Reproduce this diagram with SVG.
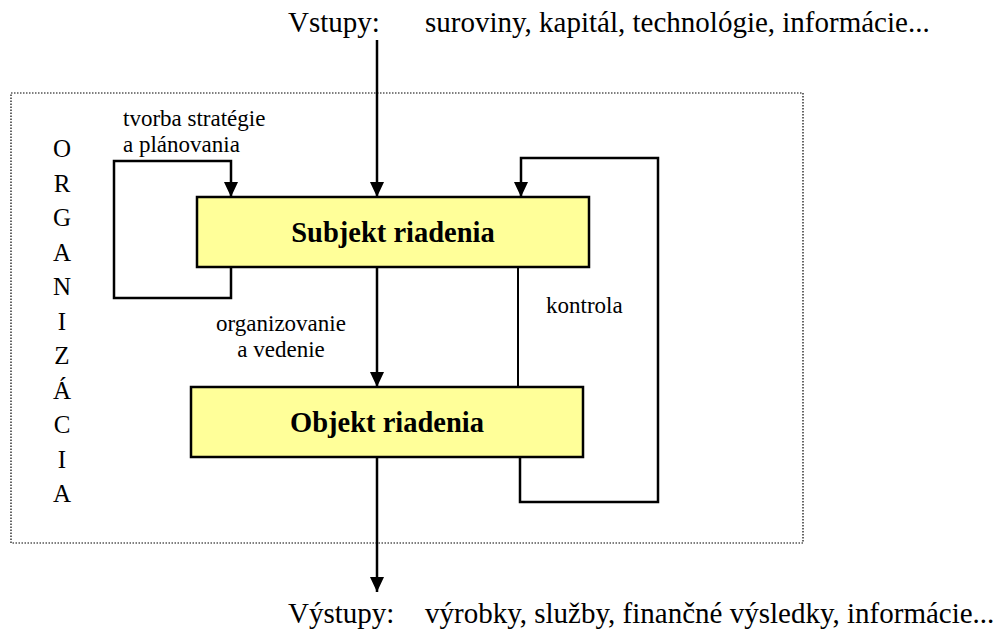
<svg xmlns="http://www.w3.org/2000/svg" width="1006" height="632" viewBox="0 0 1006 632">
<style>
text{font-family:"Liberation Serif","Times New Roman",serif;fill:#000}
.big{font-size:29px}
.lbl{font-size:23px}
.org{font-size:25px;text-anchor:middle}
.box{fill:#ffff99;stroke:#000;stroke-width:2.5}
.bt{font-size:28.5px;font-weight:bold;text-anchor:middle}
.ln{fill:none;stroke:#000;stroke-width:2}
.ar{fill:none;stroke:#000;stroke-width:2.5;marker-end:url(#ah)}
</style>
<defs>
<marker id="ah" markerUnits="userSpaceOnUse" markerWidth="16" markerHeight="16" viewBox="0 0 16 16" refX="15" refY="8" orient="auto">
<path d="M0,1 L15,8 L0,15 Z" fill="#000"/>
</marker>
</defs>
<rect width="1006" height="632" fill="#fff"/>
<g id="frame">
<rect x="11" y="93" width="792" height="450" fill="none" stroke="#000" stroke-width="1.2" stroke-dasharray="1.5,1.5"/>
</g>
<g id="organizacia">
<text class="org" x="62" y="157">O</text>
<text class="org" x="62" y="191.5">R</text>
<text class="org" x="62" y="226">G</text>
<text class="org" x="62" y="260.5">A</text>
<text class="org" x="62" y="295">N</text>
<text class="org" x="62" y="329.5">I</text>
<text class="org" x="62" y="364">Z</text>
<text class="org" x="62" y="398.5">Á</text>
<text class="org" x="62" y="433">C</text>
<text class="org" x="62" y="467.5">I</text>
<text class="org" x="62" y="502">A</text>
</g>
<g id="connectors">
<line class="ar" x1="377" y1="40" x2="377" y2="197"/>
<line class="ar" x1="377" y1="267" x2="377" y2="387"/>
<line class="ar" x1="377" y1="457" x2="377" y2="592"/>
<polyline class="ar" points="231,267 231,298 114,298 114,161 231,161 231,197"/>
<polyline class="ar" points="520,457 520,502 658,502 658,158 521,158 521,197"/>
<line class="ln" x1="518" y1="267" x2="518" y2="387"/>
</g>
<g id="subjekt">
<rect class="box" x="197" y="197" width="392" height="70"/>
<text class="bt" x="393" y="242">Subjekt riadenia</text>
</g>
<g id="objekt">
<rect class="box" x="191" y="387" width="392" height="70"/>
<text class="bt" x="387" y="432">Objekt riadenia</text>
</g>
<g id="labels">
<text class="big" x="288" y="32">Vstupy:</text>
<text class="big" x="425" y="32">suroviny, kapitál, technológie, informácie...</text>
<text class="big" x="288" y="623">Výstupy:</text>
<text class="big" x="425" y="623">výrobky, služby, finančné výsledky, informácie...</text>
<text class="lbl" x="123" y="126">tvorba stratégie</text>
<text class="lbl" x="123" y="152">a plánovania</text>
<text class="lbl" x="281" y="331" text-anchor="middle">organizovanie</text>
<text class="lbl" x="281" y="357" text-anchor="middle">a vedenie</text>
<text class="lbl" x="546" y="313">kontrola</text>
</g>
</svg>
